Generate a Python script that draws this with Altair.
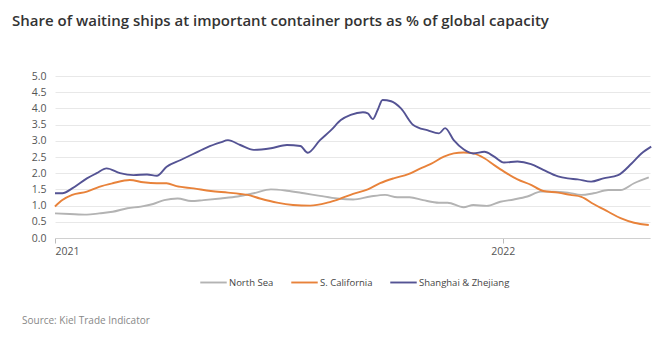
import altair as alt
import pandas as pd

TITLE = "Share of waiting ships at important container ports as % of global capacity"
SOURCE = "Source: Kiel Trade Indicator"
series_names = ["North Sea", "S. California", "Shanghai & Zhejiang"]
series_colors = ["#b3b3b3", "#e8823a", "#545394"]

ns_dates = ["2021-01-01", "2021-01-13", "2021-01-27", "2021-02-06", "2021-02-17", "2021-03-01",
            "2021-03-12", "2021-03-22", "2021-03-31", "2021-04-11", "2021-04-22", "2021-05-02",
            "2021-05-16", "2021-05-30", "2021-06-12", "2021-06-26", "2021-07-09", "2021-07-23",
            "2021-08-05", "2021-08-19", "2021-09-01", "2021-09-15", "2021-09-27", "2021-10-07",
            "2021-10-17", "2021-10-28", "2021-11-10", "2021-11-17", "2021-11-30", "2021-12-08",
            "2021-12-19", "2021-12-30", "2022-01-10", "2022-01-21", "2022-02-01", "2022-02-11",
            "2022-02-23", "2022-03-06", "2022-03-16", "2022-03-28", "2022-04-07", "2022-04-18",
            "2022-04-30"]
ns_values = [0.76, 0.74, 0.72, 0.76, 0.81, 0.92, 0.97, 1.05, 1.17, 1.22, 1.14, 1.17,
             1.22, 1.28, 1.38, 1.50, 1.46, 1.38, 1.30, 1.22, 1.19, 1.28, 1.33, 1.26,
             1.26, 1.17, 1.09, 1.09, 0.95, 1.02, 0.99, 1.12, 1.19, 1.28, 1.43, 1.43,
             1.40, 1.33, 1.38, 1.48, 1.48, 1.69, 1.87]

sc_dates = ["2021-01-01", "2021-01-07", "2021-01-15", "2021-01-27", "2021-02-06", "2021-02-17",
            "2021-03-03", "2021-03-14", "2021-03-25", "2021-04-02", "2021-04-10", "2021-04-24",
            "2021-05-08", "2021-05-22", "2021-06-01", "2021-06-07", "2021-06-17", "2021-07-01",
            "2021-07-14", "2021-07-28", "2021-08-11", "2021-08-22", "2021-09-01", "2021-09-13",
            "2021-09-23", "2021-10-04", "2021-10-16", "2021-10-26", "2021-11-03", "2021-11-14",
            "2021-11-22", "2021-11-30", "2021-12-08", "2021-12-17", "2021-12-25", "2022-01-02",
            "2022-01-13", "2022-01-24", "2022-02-03", "2022-02-15", "2022-02-25", "2022-03-06",
            "2022-03-16", "2022-03-28", "2022-04-07", "2022-04-18", "2022-04-30"]
sc_values = [0.97, 1.17, 1.33, 1.43, 1.58, 1.69, 1.79, 1.72, 1.69, 1.69, 1.60, 1.53,
             1.45, 1.40, 1.36, 1.33, 1.22, 1.09, 1.02, 1.00, 1.09, 1.22, 1.36, 1.50,
             1.69, 1.84, 1.97, 2.15, 2.28, 2.51, 2.61, 2.64, 2.61, 2.46, 2.25, 2.05,
             1.81, 1.64, 1.45, 1.40, 1.33, 1.27, 1.05, 0.81, 0.61, 0.47, 0.40]

sh_dates = ["2021-01-01", "2021-01-07", "2021-01-15", "2021-01-27", "2021-02-04", "2021-02-12",
            "2021-02-23", "2021-03-06", "2021-03-17", "2021-03-25", "2021-04-02", "2021-04-13",
            "2021-04-24", "2021-05-05", "2021-05-16", "2021-05-22", "2021-06-01", "2021-06-12",
            "2021-06-26", "2021-07-09", "2021-07-20", "2021-07-26", "2021-08-05", "2021-08-14",
            "2021-08-22", "2021-08-30", "2021-09-09", "2021-09-13", "2021-09-17", "2021-09-21",
            "2021-09-25", "2021-10-02", "2021-10-10", "2021-10-20", "2021-11-01", "2021-11-10",
            "2021-11-15", "2021-11-22", "2021-11-30", "2021-12-08", "2021-12-17", "2021-12-25",
            "2022-01-02", "2022-01-13", "2022-01-24", "2022-02-03", "2022-02-15", "2022-02-23",
            "2022-03-03", "2022-03-14", "2022-03-24", "2022-04-05", "2022-04-16", "2022-04-24",
            "2022-05-02"]
sh_values = [1.38, 1.38, 1.53, 1.84, 2.00, 2.15, 2.00, 1.94, 1.96, 1.92, 2.20, 2.40,
             2.60, 2.80, 2.95, 3.02, 2.87, 2.72, 2.77, 2.87, 2.84, 2.63, 3.02, 3.33,
             3.64, 3.80, 3.88, 3.85, 3.67, 3.95, 4.26, 4.22, 4.00, 3.49, 3.32, 3.23,
             3.39, 3.02, 2.74, 2.61, 2.66, 2.51, 2.33, 2.36, 2.28, 2.10, 1.90, 1.84,
             1.81, 1.74, 1.84, 1.94, 2.30, 2.61, 2.82]

y_ticks = [0, 0.5, 1, 1.5, 2, 2.5, 3, 3.5, 4, 4.5, 5]

frames = []
for name, d, v in [(series_names[0], ns_dates, ns_values),
                   (series_names[1], sc_dates, sc_values),
                   (series_names[2], sh_dates, sh_values)]:
    frames.append(pd.DataFrame({"date": pd.to_datetime(d), "value": v, "series": name}))
df = pd.concat(frames, ignore_index=True)

FONT = "Open Sans"

lines = alt.Chart(df).mark_line(strokeWidth=1.9, interpolate="monotone").encode(
    x=alt.X("date:T",
            scale=alt.Scale(domain=[{"year": 2021, "month": 1, "date": 1},
                                    {"year": 2022, "month": 5, "date": 1}]),
            axis=alt.Axis(title=None, values=[{"year": 2021, "month": 1, "date": 1},
                                              {"year": 2022, "month": 1, "date": 1}],
                          format="%Y", grid=False, domainColor="#d0d0d0", tickColor="#bbbbbb",
                          tickSize=5, labelColor="#555555", labelFontSize=10.5, labelFont=FONT,
                          labelPadding=3)),
    y=alt.Y("value:Q", scale=alt.Scale(domain=[0, 5]),
            axis=alt.Axis(title=None, values=y_ticks, format=".1f", domain=False, ticks=False,
                          gridColor="#e8e8e8", labelColor="#555555", labelFontSize=10.5,
                          labelFont=FONT, labelPadding=9)),
    color=alt.Color("series:N", scale=alt.Scale(domain=series_names, range=series_colors),
                    legend=alt.Legend(title=None, orient="none", direction="horizontal",
                                      legendX=144, legendY=192, symbolType="stroke",
                                      symbolSize=700, symbolStrokeWidth=1.9,
                                      labelFont=FONT, labelFontSize=9.5, labelColor="#444444",
                                      columnPadding=13, labelOffset=1)),
)

source = alt.Chart(pd.DataFrame({"t": [SOURCE]})).mark_text(
    align="left", baseline="middle", font=FONT, fontSize=10, color="#888888"
).encode(text="t:N", x=alt.value(-33), y=alt.value(245))

chart = alt.layer(lines, source).properties(
    width=595, height=162,
    padding={"left": 55, "top": 76, "right": 12, "bottom": 99},
    autosize=alt.AutoSizeParams(type="none"),
    title=alt.TitleParams(TITLE, anchor="start", frame="group", dx=-43, dy=-38,
                          font=FONT, fontSize=15, fontWeight=600, color="#333333"),
).configure_view(stroke=None)

chart.save("out.html", embed_options={"renderer": "svg", "actions": False})
